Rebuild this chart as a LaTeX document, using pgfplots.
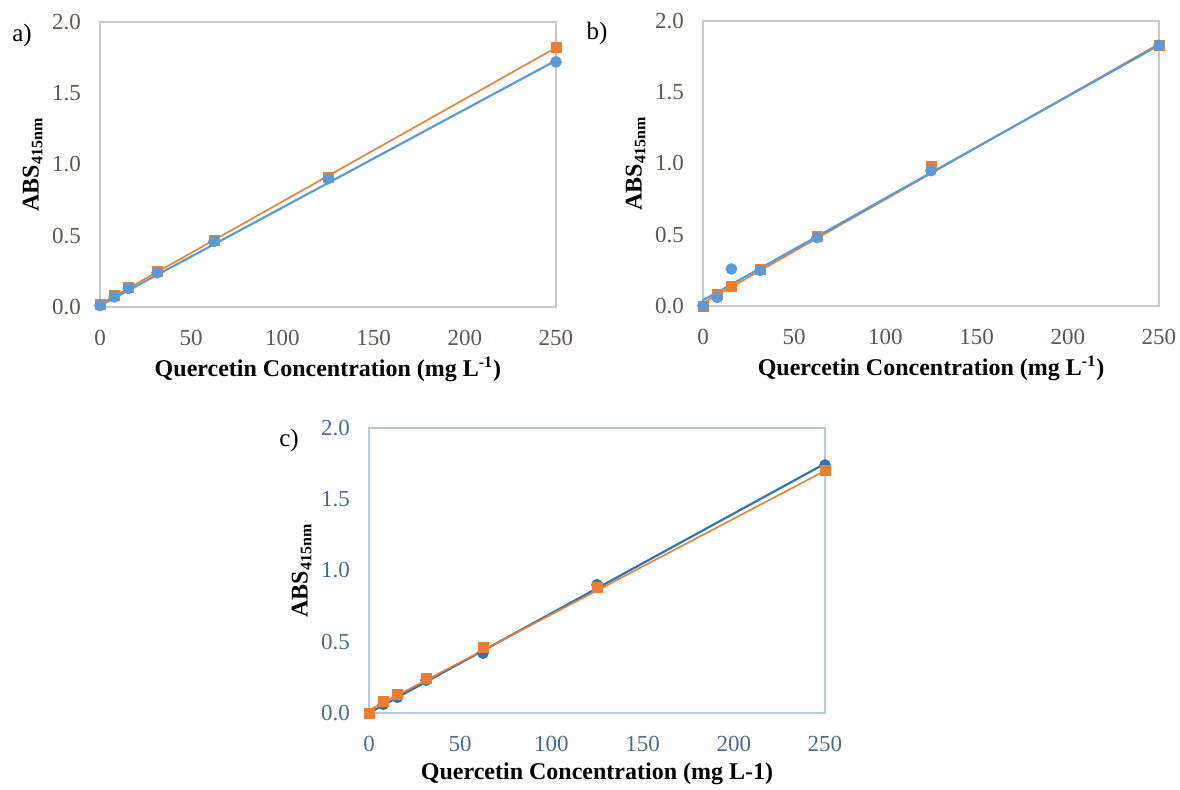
\documentclass[border=0pt]{standalone}
\usepackage{fontspec}
\setmainfont{Liberation Serif}
\usepackage{pgfplots}
\pgfplotsset{compat=1.18}
\definecolor{xorange}{HTML}{ED7D31}
\definecolor{xblue}{HTML}{5B9BD5}
\definecolor{xdblue}{HTML}{2E75B6}
\definecolor{tickgray}{HTML}{5E5650}
\definecolor{ticklblue}{HTML}{4A6A96}
\definecolor{framegray}{HTML}{C8C8C8}
\definecolor{frameblue}{HTML}{B4C7E7}
\pgfplotsset{
  panel/.style={
    scale only axis, width=228pt, height=142.5pt,
    xmin=0, xmax=250, ymin=0, ymax=2,
    xtick={0,50,100,150,200,250}, ytick={0,0.5,1,1.5,2},
    yticklabel style={xshift=-6pt, /pgf/number format/fixed, /pgf/number format/fixed zerofill, /pgf/number format/precision=1},
    /pgf/number format/assume math mode=true,
    major tick length=0pt,
    tick label style={font=\fontsize{11.5}{13}\selectfont, text=tickgray},
    xticklabel style={yshift=-8pt},
    axis line style={framegray, line width=0.6pt},
    label style={font=\bfseries\fontsize{12}{14}\selectfont},
    ylabel={ABS\textsubscript{415nm}},
    ylabel style={yshift=-2pt},
    xlabel style={yshift=1pt},
    clip=false,
  },
  ptsq/.style={only marks, mark=square*, mark size=2.5pt, color=xorange},
  ptci/.style={only marks, mark=*, mark size=2.7pt, color=#1},
}
\begin{document}
\begin{tikzpicture}
\useasboundingbox (0,0) rectangle (590pt,394.5pt);
% panel a
\begin{axis}[panel, at={(50pt,241pt)}, anchor=south west,
  xlabel={Quercetin Concentration (mg L\textsuperscript{-1})}]
\addplot[xorange, line width=0.8pt] coordinates {(0,0.02) (250,1.82)};
\addplot[xblue, line width=1.1pt] coordinates {(0,0.01) (250,1.73)};
\addplot[ptsq] coordinates {(0,0.02) (7.8,0.08) (15.6,0.14) (31.25,0.25) (62.5,0.47) (125,0.91) (250,1.82)};
\addplot[ptci=xblue] coordinates {(0,0.01) (7.8,0.07) (15.6,0.13) (31.25,0.24) (62.5,0.46) (125,0.90) (250,1.72)};
\end{axis}
% panel b
\begin{axis}[panel, at={(351.5pt,241.5pt)}, anchor=south west,
  xlabel={Quercetin Concentration (mg L\textsuperscript{-1})}]
\addplot[xorange, line width=0.8pt] coordinates {(0,0.02) (250,1.84)};
\addplot[xblue, line width=1.1pt] coordinates {(0,0.04) (250,1.83)};
\addplot[ptsq] coordinates {(0,0.0) (7.8,0.08) (15.6,0.14) (31.25,0.26) (62.5,0.49) (125,0.98) (250,1.83)};
\addplot[ptci=xblue] coordinates {(0,0.0) (7.8,0.06) (15.6,0.26) (31.25,0.25) (62.5,0.48) (125,0.95) (250,1.83)};
\end{axis}
% panel c
\begin{axis}[panel, at={(184.5pt,38pt)}, anchor=south west,
  tick label style={text=ticklblue},
  axis line style={frameblue},
  xlabel={Quercetin Concentration (mg L-1)}]
\addplot[xdblue, line width=1.1pt] coordinates {(0,0.0) (250,1.75)};
\addplot[xorange, line width=0.8pt] coordinates {(0,0.02) (250,1.70)};
\addplot[ptci=xdblue] coordinates {(7.8,0.06) (15.6,0.11) (31.25,0.23) (62.5,0.42) (125,0.90) (250,1.74)};
\addplot[ptsq] coordinates {(0,0.0) (7.8,0.08) (15.6,0.13) (31.25,0.24) (62.5,0.46) (125,0.88) (250,1.70)};
\end{axis}
\node[font=\fontsize{12.5}{14}\selectfont] at (11pt,377pt) {a)};
\node[font=\fontsize{12.5}{14}\selectfont] at (298.5pt,378pt) {b)};
\node[font=\fontsize{12.5}{14}\selectfont] at (144.5pt,174.5pt) {c)};
\end{tikzpicture}
\end{document}
